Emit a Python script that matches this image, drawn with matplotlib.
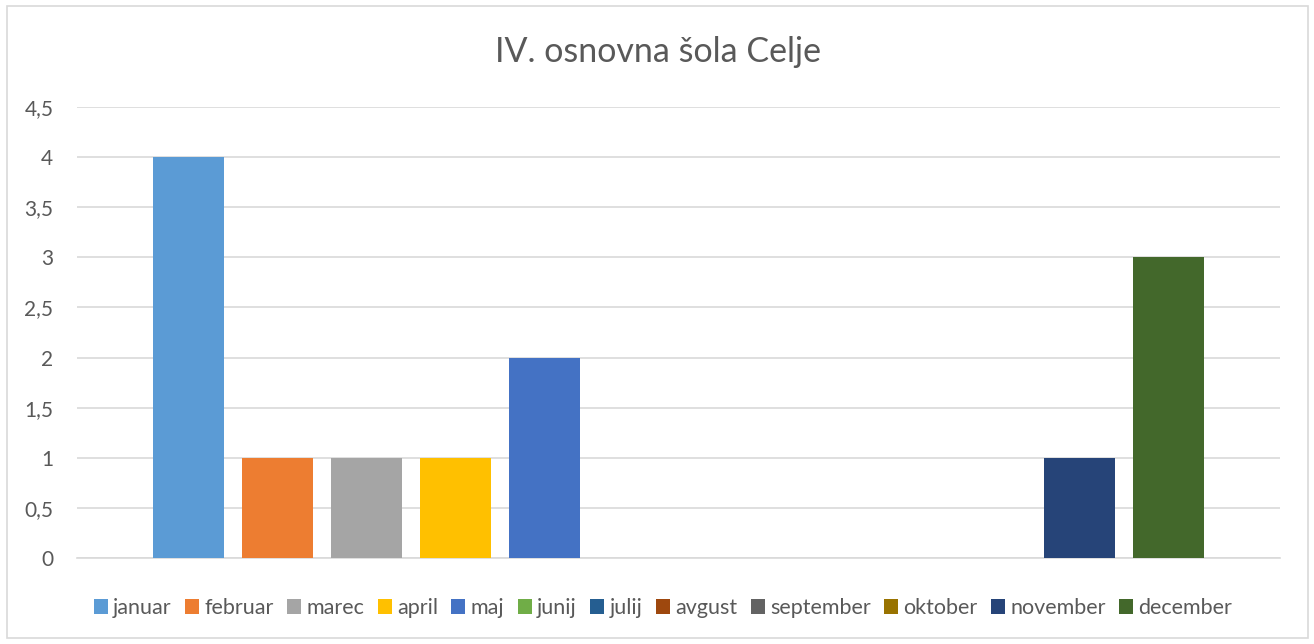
import matplotlib
matplotlib.use("Agg")
import matplotlib.pyplot as plt
from matplotlib.patches import Rectangle, Patch

months = ["januar", "februar", "marec", "april", "maj", "junij", "julij",
          "avgust", "september", "oktober", "november", "december"]
values = [4, 1, 1, 1, 2, 0, 0, 0, 0, 0, 1, 3]
colors = ["#5B9BD5", "#ED7D31", "#A5A5A5", "#FFC000", "#4472C4", "#70AD47",
          "#255E91", "#9E480E", "#636363", "#997300", "#264478", "#43682B"]
yticks = [0, 0.5, 1, 1.5, 2, 2.5, 3, 3.5, 4, 4.5]
ytick_labels = ["0", "0,5", "1", "1,5", "2", "2,5", "3", "3,5", "4", "4,5"]
title = "IV. osnovna šola Celje"

plt.rcParams['font.family'] = ['Lato', 'DejaVu Sans']
txt = "#595959"

W, H = 1314, 644
fig = plt.figure(figsize=(W / 100, H / 100), dpi=100)
fig.patches.append(Rectangle((7 / W, 6 / H), 1301 / W, 632 / H, transform=fig.transFigure,
                             fill=False, edgecolor="#D9D9D9", linewidth=1.2))

ax = fig.add_axes([77 / W, (H - 558) / H, 1203 / W, 451 / H])
n = len(months)
spacing = 89.1 / 1203
width = 71 / 1203
for i, (m, v, c) in enumerate(zip(months, values, colors)):
    ax.bar((i - (n - 1) / 2) * spacing, v, width=width, color=c, label=m, zorder=3)

ax.set_xlim(-0.5, 0.5)
ax.set_ylim(0, 4.5)
ax.set_yticks(yticks)
ax.set_yticklabels(ytick_labels)
ax.set_xticks([])
ax.grid(axis="y", color="#D9D9D9", linewidth=1.2, zorder=0)
for s in ["top", "right", "left"]:
    ax.spines[s].set_visible(False)
ax.spines["bottom"].set_color("#D9D9D9")
ax.spines["bottom"].set_linewidth(1.2)
ax.tick_params(axis="y", length=0, labelsize=15, labelcolor=txt, pad=17)

fig.text(658 / W, 1 - 52 / H, title, ha="center", va="center", fontsize=24.5, color=txt)

handles = [Patch(facecolor=c, edgecolor="none") for c in colors]
fig.legend(handles, months, loc="center", bbox_to_anchor=(663 / W, 1 - 608 / H), ncol=n,
           frameon=False, fontsize=15.5, labelcolor=txt, handlelength=0.65, handleheight=0.65,
           handletextpad=0.25, columnspacing=0.62, borderpad=0)

fig.savefig("out.png", dpi=100, facecolor="white")
